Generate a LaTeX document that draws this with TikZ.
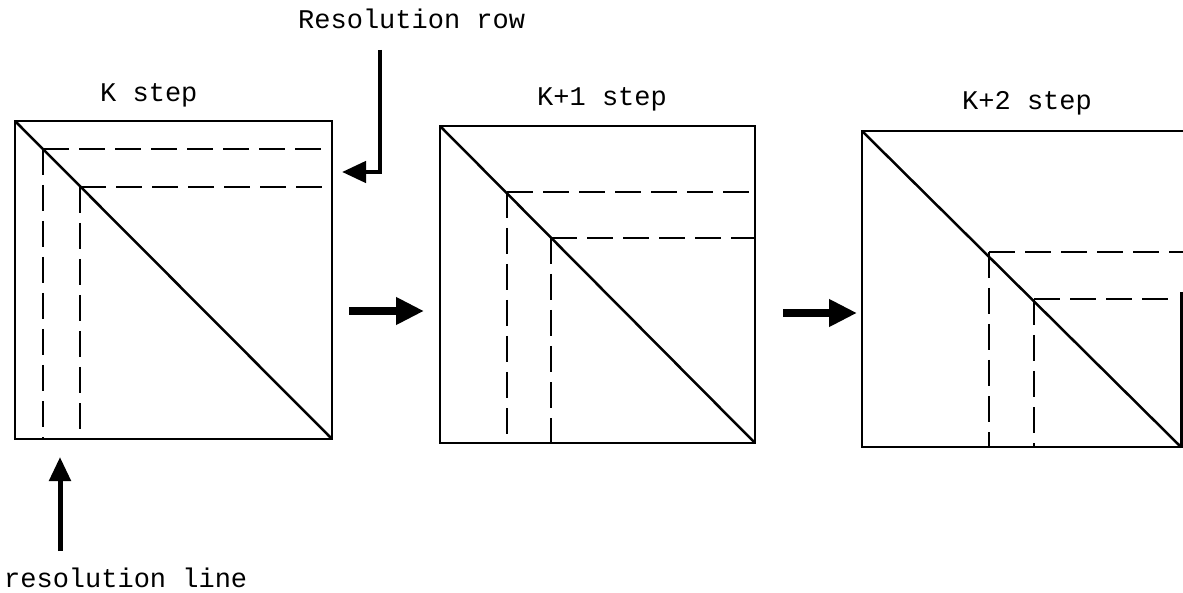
\documentclass[tikz,border=0pt]{standalone}
\usepackage{fontspec}
\setmonofont{Liberation Mono}
\usetikzlibrary{arrows.meta}
\tikzset{
  box/.style={line width=2.8pt},
  diag/.style={line width=2.5pt},
  dashline/.style={line width=2.8pt, dash pattern=on 26pt off 10pt},
  fatarrow/.style={line width=8.5pt, -{Triangle[length=28pt,width=26pt]}},
  pointer/.style={line width=4.5pt, -{Triangle[length=24pt,width=21pt]}},
  lbl/.style={font=\ttfamily\fontsize{27}{30}\selectfont, inner sep=0pt, anchor=base west},
}
\begin{document}
\begin{tikzpicture}[x=1pt,y=-1pt]
\useasboundingbox (0,0) rectangle (1183,593);
% labels
\node[lbl] (resrow) at (298,29) {Resolution row};
\node[lbl] (kstep) at (100,102) {K step};
\node[lbl] (konestep) at (537,106) {K+1 step};
\node[lbl] (ktwostep) at (962,110) {K+2 step};
\node[lbl] (resline) at (4,587) {resolution line};
% box 1
\draw[box] (15,121) rectangle (332,439);
\draw[diag] (15,121) -- (332,439);
\draw[dashline] (43,149) -- (332,149);
\draw[dashline] (43,149) -- (43,439);
\draw[dashline] (80,187) -- (332,187);
\draw[dashline] (80,187) -- (80,439);
% box 2
\draw[box] (440,126) rectangle (755,443);
\draw[diag] (440,126) -- (755,443);
\draw[dashline] (507,192) -- (755,192);
\draw[dashline] (507,192) -- (507,443);
\draw[dashline] (551,238) -- (755,238);
\draw[dashline] (551,238) -- (551,443);
% box 3 (cut at the right edge)
\draw[box] (1183,131) -- (862,131) -- (862,447) -- (1183,447);
\draw[box] (1181.5,292) -- (1181.5,447);
\draw[diag] (862,131) -- (1181,447);
\draw[dashline] (989,252) -- (1183,252);
\draw[dashline] (989,252) -- (989,447);
\draw[dashline] (1034,299) -- (1176,299);
\draw[dashline] (1034,299) -- (1034,447);
% step arrows
\coordinate (aonestart) at (349,311);
\coordinate (aoneend) at (424,311);
\coordinate (atwostart) at (783,313);
\coordinate (atwoend) at (857,313);
\draw[fatarrow] (aonestart) -- (aoneend);
\draw[fatarrow] (atwostart) -- (atwoend);
% resolution row pointer
\coordinate (rrtop) at (380,50);
\coordinate (rrtip) at (342,172);
\draw[pointer, line join=miter] (rrtop) |- (rrtip);
% resolution line pointer
\coordinate (rlbottom) at (60,551);
\coordinate (rltip) at (60,457);
\draw[pointer, line width=5pt] (rlbottom) -- (rltip);
\end{tikzpicture}
\end{document}
